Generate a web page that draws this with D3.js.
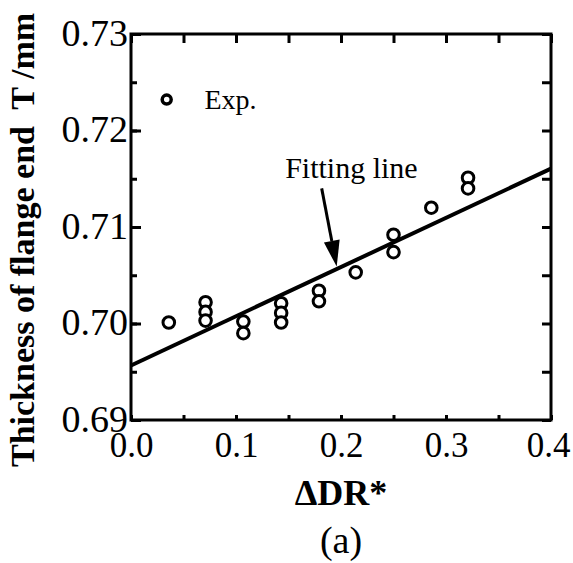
<!doctype html>
<html lang="en">
  <head>
    <meta charset="UTF-8" />
    <title>Thickness of flange end vs ΔDR*</title>
    <script src="https://d3js.org/d3.v7.min.js"></script>
    <style>
      body {
        margin: 0;
        background: #fff;
      }
    </style>
  </head>
  <body>
    <svg width="573" height="563"></svg>

    <script>
      // measured points (ΔDR*, T)
      const dr = [
        0.036, 0.071, 0.071, 0.071, 0.107, 0.107, 0.143, 0.143, 0.143, 0.179,
        0.179, 0.214, 0.25, 0.25, 0.286, 0.321, 0.321,
      ];
      const thickness = [
        0.7001, 0.7022, 0.7012, 0.7003, 0.7002, 0.699, 0.7021, 0.7011, 0.7001,
        0.7034, 0.7023, 0.7053, 0.7092, 0.7074, 0.712, 0.7151, 0.714,
      ];
      // fitting line end points
      const fitX = [0.0, 0.4];
      const fitY = [0.69565, 0.71605];
      const xTicks = [0.0, 0.1, 0.2, 0.3, 0.4];
      const yTicks = [0.69, 0.7, 0.71, 0.72, 0.73];

      const FONT = "Liberation Serif, Times New Roman, Times, DejaVu Serif, serif";

      const svg = d3
          .select("svg")
          .attr("font-family", FONT),
        margin = { top: 34, right: 22, bottom: 143, left: 131 },
        width = +svg.attr("width") - margin.left - margin.right,
        height = +svg.attr("height") - margin.top - margin.bottom,
        g = svg
          .append("g")
          .attr("transform", `translate(${margin.left},${margin.top})`);

      const x = d3.scaleLinear().domain([0, 0.4]).range([0, width]);
      const y = d3.scaleLinear().domain([0.69, 0.73]).range([height, 0]);

      // frame
      g.append("rect")
        .attr("width", width)
        .attr("height", height)
        .attr("fill", "none")
        .attr("stroke", "#000")
        .attr("stroke-width", 3);

      const minorY = d3.range(0.69, 0.7301, 0.005);
      const minorX = d3.range(0, 0.4001, 0.05);

      function styleAxis(sel) {
        sel.attr("font-family", FONT);
        sel.select(".domain").remove();
        sel.selectAll(".tick line").attr("stroke", "#000").attr("stroke-width", 3);
        sel.selectAll(".tick text").attr("fill", "#000");
      }

      // left ticks (inward) + labels
      g.append("g")
        .call(d3.axisLeft(y).tickValues(minorY).tickSize(-6).tickFormat(""))
        .call(styleAxis);
      g.append("g")
        .call(
          d3
            .axisLeft(y)
            .tickValues(yTicks)
            .tickSize(-10)
            .tickPadding(3)
            .tickFormat(d3.format(".2f")),
        )
        .call(styleAxis)
        .selectAll("text")
        .attr("font-size", 38)
        .attr("dy", "0.3em");

      // right ticks
      g.append("g")
        .attr("transform", `translate(${width},0)`)
        .call(d3.axisRight(y).tickValues(minorY).tickSize(-9).tickFormat(""))
        .call(styleAxis);

      // bottom ticks + labels
      g.append("g")
        .attr("transform", `translate(0,${height})`)
        .call(d3.axisBottom(x).tickValues(minorX).tickSize(-5).tickFormat(""))
        .call(styleAxis);
      g.append("g")
        .attr("transform", `translate(0,${height})`)
        .call(
          d3
            .axisBottom(x)
            .tickValues(xTicks)
            .tickSize(0)
            .tickPadding(9)
            .tickFormat(d3.format(".1f")),
        )
        .call(styleAxis)
        .selectAll("text")
        .attr("font-size", 35)
        .attr("dy", "0.8em")
        .attr("dx", (d) => (d === 0.4 ? -3 : 0));

      // top ticks
      g.append("g")
        .call(d3.axisTop(x).tickValues(minorX).tickSize(-9).tickFormat(""))
        .call(styleAxis);

      // fitting line
      g.append("line")
        .attr("x1", x(fitX[0]))
        .attr("y1", y(fitY[0]))
        .attr("x2", x(fitX[1]))
        .attr("y2", y(fitY[1]))
        .attr("stroke", "#000")
        .attr("stroke-width", 4);

      // data points
      g.selectAll(".pt")
        .data(dr.map((d, i) => [d, thickness[i]]))
        .enter()
        .append("circle")
        .attr("class", "pt")
        .attr("cx", (d) => x(d[0]))
        .attr("cy", (d) => y(d[1]))
        .attr("r", 5.8)
        .attr("fill", "#fff")
        .attr("stroke", "#000")
        .attr("stroke-width", 3);

      // legend
      g.append("circle")
        .attr("cx", x(0.034))
        .attr("cy", y(0.7232))
        .attr("r", 4.5)
        .attr("fill", "#fff")
        .attr("stroke", "#000")
        .attr("stroke-width", 3.5);
      g.append("text")
        .attr("x", x(0.07))
        .attr("y", y(0.7232))
        .attr("dy", "0.35em")
        .attr("font-size", 28)
        .text("Exp.");

      // annotation arrow
      const a0 = [x(0.1816), y(0.714)],
        a1 = [x(0.1959), y(0.7059)];
      const ang = Math.atan2(a1[1] - a0[1], a1[0] - a0[0]);
      const hl = 26,
        hw = 8;
      const base = [a1[0] - hl * Math.cos(ang), a1[1] - hl * Math.sin(ang)];
      g.append("line")
        .attr("x1", a0[0])
        .attr("y1", a0[1])
        .attr("x2", base[0])
        .attr("y2", base[1])
        .attr("stroke", "#000")
        .attr("stroke-width", 3);
      g.append("path")
        .attr(
          "d",
          `M${a1[0]},${a1[1]}L${base[0] + hw * Math.sin(ang)},${base[1] - hw * Math.cos(ang)}L${base[0] - hw * Math.sin(ang)},${base[1] + hw * Math.cos(ang)}Z`,
        )
        .attr("fill", "#000");
      g.append("text")
        .attr("x", x(0.1468))
        .attr("y", y(0.7151))
        .attr("font-size", 30)
        .text("Fitting line");

      // axis titles
      svg
        .append("text")
        .attr("transform", `translate(34,240) rotate(-90)`)
        .attr("text-anchor", "middle")
        .attr("font-size", 34)
        .attr("font-weight", "bold")
        .attr("xml:space", "preserve")
        .text("Thickness of flange end  T /mm");

      svg
        .append("text")
        .attr("x", margin.left + width / 2)
        .attr("y", 505)
        .attr("text-anchor", "middle")
        .attr("font-size", 36)
        .attr("font-weight", "bold")
        .text("ΔDR*");

      svg
        .append("text")
        .attr("x", margin.left + width / 2)
        .attr("y", 553)
        .attr("text-anchor", "middle")
        .attr("font-size", 38)
        .text("(a)");
    </script>
  </body>
</html>
